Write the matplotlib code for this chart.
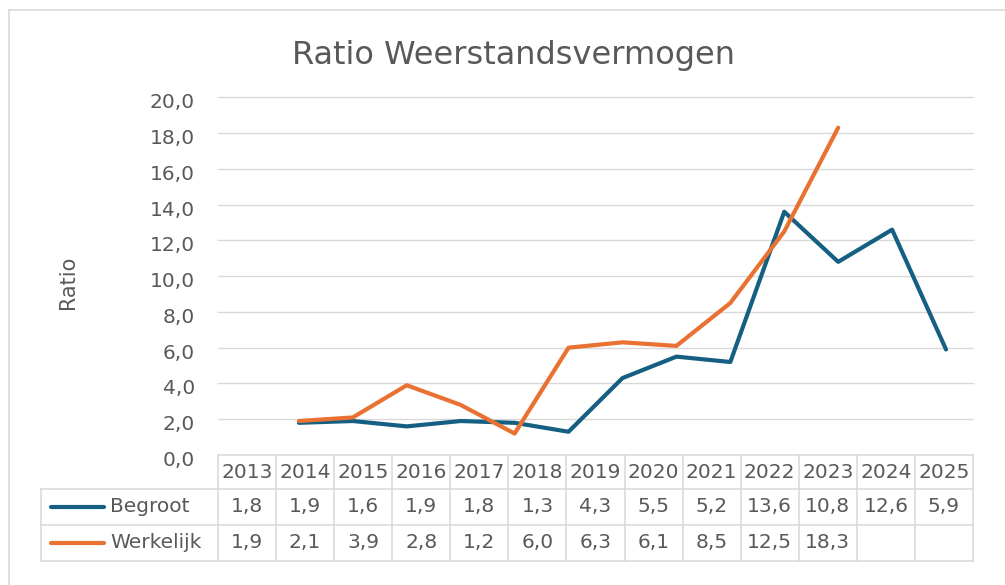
import matplotlib
matplotlib.use("Agg")
import matplotlib.pyplot as plt
import numpy as np
from matplotlib.lines import Line2D
from matplotlib.transforms import ScaledTranslation

# ---------------- data ----------------
years = ["2013", "2014", "2015", "2016", "2017", "2018", "2019",
         "2020", "2021", "2022", "2023", "2024", "2025"]
begroot = [1.8, 1.9, 1.6, 1.9, 1.8, 1.3, 4.3, 5.5, 5.2, 13.6, 10.8, 12.6, 5.9]
werkelijk = [1.9, 2.1, 3.9, 2.8, 1.2, 6.0, 6.3, 6.1, 8.5, 12.5, 18.3, None, None]
series_names = ["Begroot", "Werkelijk"]
yticks = [0, 2, 4, 6, 8, 10, 12, 14, 16, 18, 20]
title = "Ratio Weerstandsvermogen"
ylabel = "Ratio"

# ---------------- style ----------------
W, H = 1005, 585
BLUE = "#156082"
ORANGE = "#E97132"
TXT = "#595959"
GRID = "#d9d9d9"
plt.rcParams["font.family"] = ["DejaVu Sans"]
FS = 14.5


def fx(px):
    return px / W


def fy(py):
    return 1 - py / H


def fmt(v):
    return "" if v is None else f"{v:.1f}".replace(".", ",")


fig = plt.figure(figsize=(W / 100, H / 100), dpi=100)
fig.patch.set_facecolor("white")

# outer chart border (cropped: only left and top visible)
fig.add_artist(Line2D([fx(8.5), fx(8.5)], [fy(10), fy(H + 5)],
                      transform=fig.transFigure, color=GRID, lw=1.2))
fig.add_artist(Line2D([fx(8.5), fx(W + 5)], [fy(10), fy(10)],
                      transform=fig.transFigure, color=GRID, lw=1.2))

# plot area
L, R, T, B = 218, 973, 97.3, 455
ax = fig.add_axes([fx(L), fy(B), (R - L) / W, (B - T) / H])
n = len(years)
x = np.arange(1, n + 1)
ax.set_xlim(-0.5, n + 0.5)
ax.set_ylim(0, 20)
for s in ax.spines.values():
    s.set_visible(False)
ax.set_xticks([])
ax.set_yticks(yticks)
ax.set_yticklabels([fmt(float(v)) for v in yticks])
ax.tick_params(axis="y", length=0, pad=16.5, labelsize=FS, labelcolor=TXT)
off = ScaledTranslation(0, -0.035, fig.dpi_scale_trans)
for lab in ax.get_yticklabels():
    lab.set_transform(lab.get_transform() + off)
for v in yticks[1:]:
    ax.axhline(v, color=GRID, lw=1.0, clip_on=False, zorder=0)

wk = np.array([np.nan if v is None else v for v in werkelijk], dtype=float)
ax.plot(x, begroot, color=BLUE, lw=3.0, solid_capstyle="round",
        solid_joinstyle="round", zorder=3)
ax.plot(x, wk, color=ORANGE, lw=3.0, solid_capstyle="round",
        solid_joinstyle="round", zorder=4)

# title and axis label
fig.text(fx(513.5), fy(64), title, ha="center", va="baseline",
         fontsize=23, color=TXT)
fig.text(fx(68), fy(282), ylabel, ha="center", va="center", rotation=90,
         fontsize=15, color=TXT)

# ---------------- data table ----------------
cw = (R - L) / n
row_top = [455, 489, 525]
row_bot = 561
leg_left = 41
lw_tab = 1.1


def hline(x0, x1, y):
    fig.add_artist(Line2D([fx(x0), fx(x1)], [fy(y), fy(y)],
                          transform=fig.transFigure, color=GRID, lw=lw_tab))


def vline(xp, y0, y1):
    fig.add_artist(Line2D([fx(xp), fx(xp)], [fy(y0), fy(y1)],
                          transform=fig.transFigure, color=GRID, lw=lw_tab))


hline(L, R, row_top[0])
hline(leg_left, R, row_top[1])
hline(leg_left, R, row_top[2])
hline(leg_left, R, row_bot)
vline(leg_left, row_top[1], row_bot)
for j in range(n + 1):
    vline(L + j * cw, row_top[0], row_bot)

for j, yr in enumerate(years):
    fig.text(fx(L + (j + 0.5) * cw), fy((row_top[0] + row_top[1]) / 2), yr,
             ha="center", va="center", fontsize=FS, color=TXT)

rows = [(series_names[0], begroot, BLUE, row_top[1], row_top[2]),
        (series_names[1], werkelijk, ORANGE, row_top[2], row_bot)]
for name, vals, col, y0, y1 in rows:
    yc = (y0 + y1) / 2
    fig.add_artist(Line2D([fx(51), fx(104)], [fy(yc), fy(yc)],
                          transform=fig.transFigure, color=col, lw=3.0,
                          solid_capstyle="round"))
    fig.text(fx(110), fy(yc), name, ha="left", va="center",
             fontsize=FS, color=TXT)
    for j, v in enumerate(vals):
        fig.text(fx(L + (j + 0.5) * cw), fy(yc), fmt(v), ha="center",
                 va="center", fontsize=FS, color=TXT)

fig.savefig("out.png", dpi=100, facecolor="white")
